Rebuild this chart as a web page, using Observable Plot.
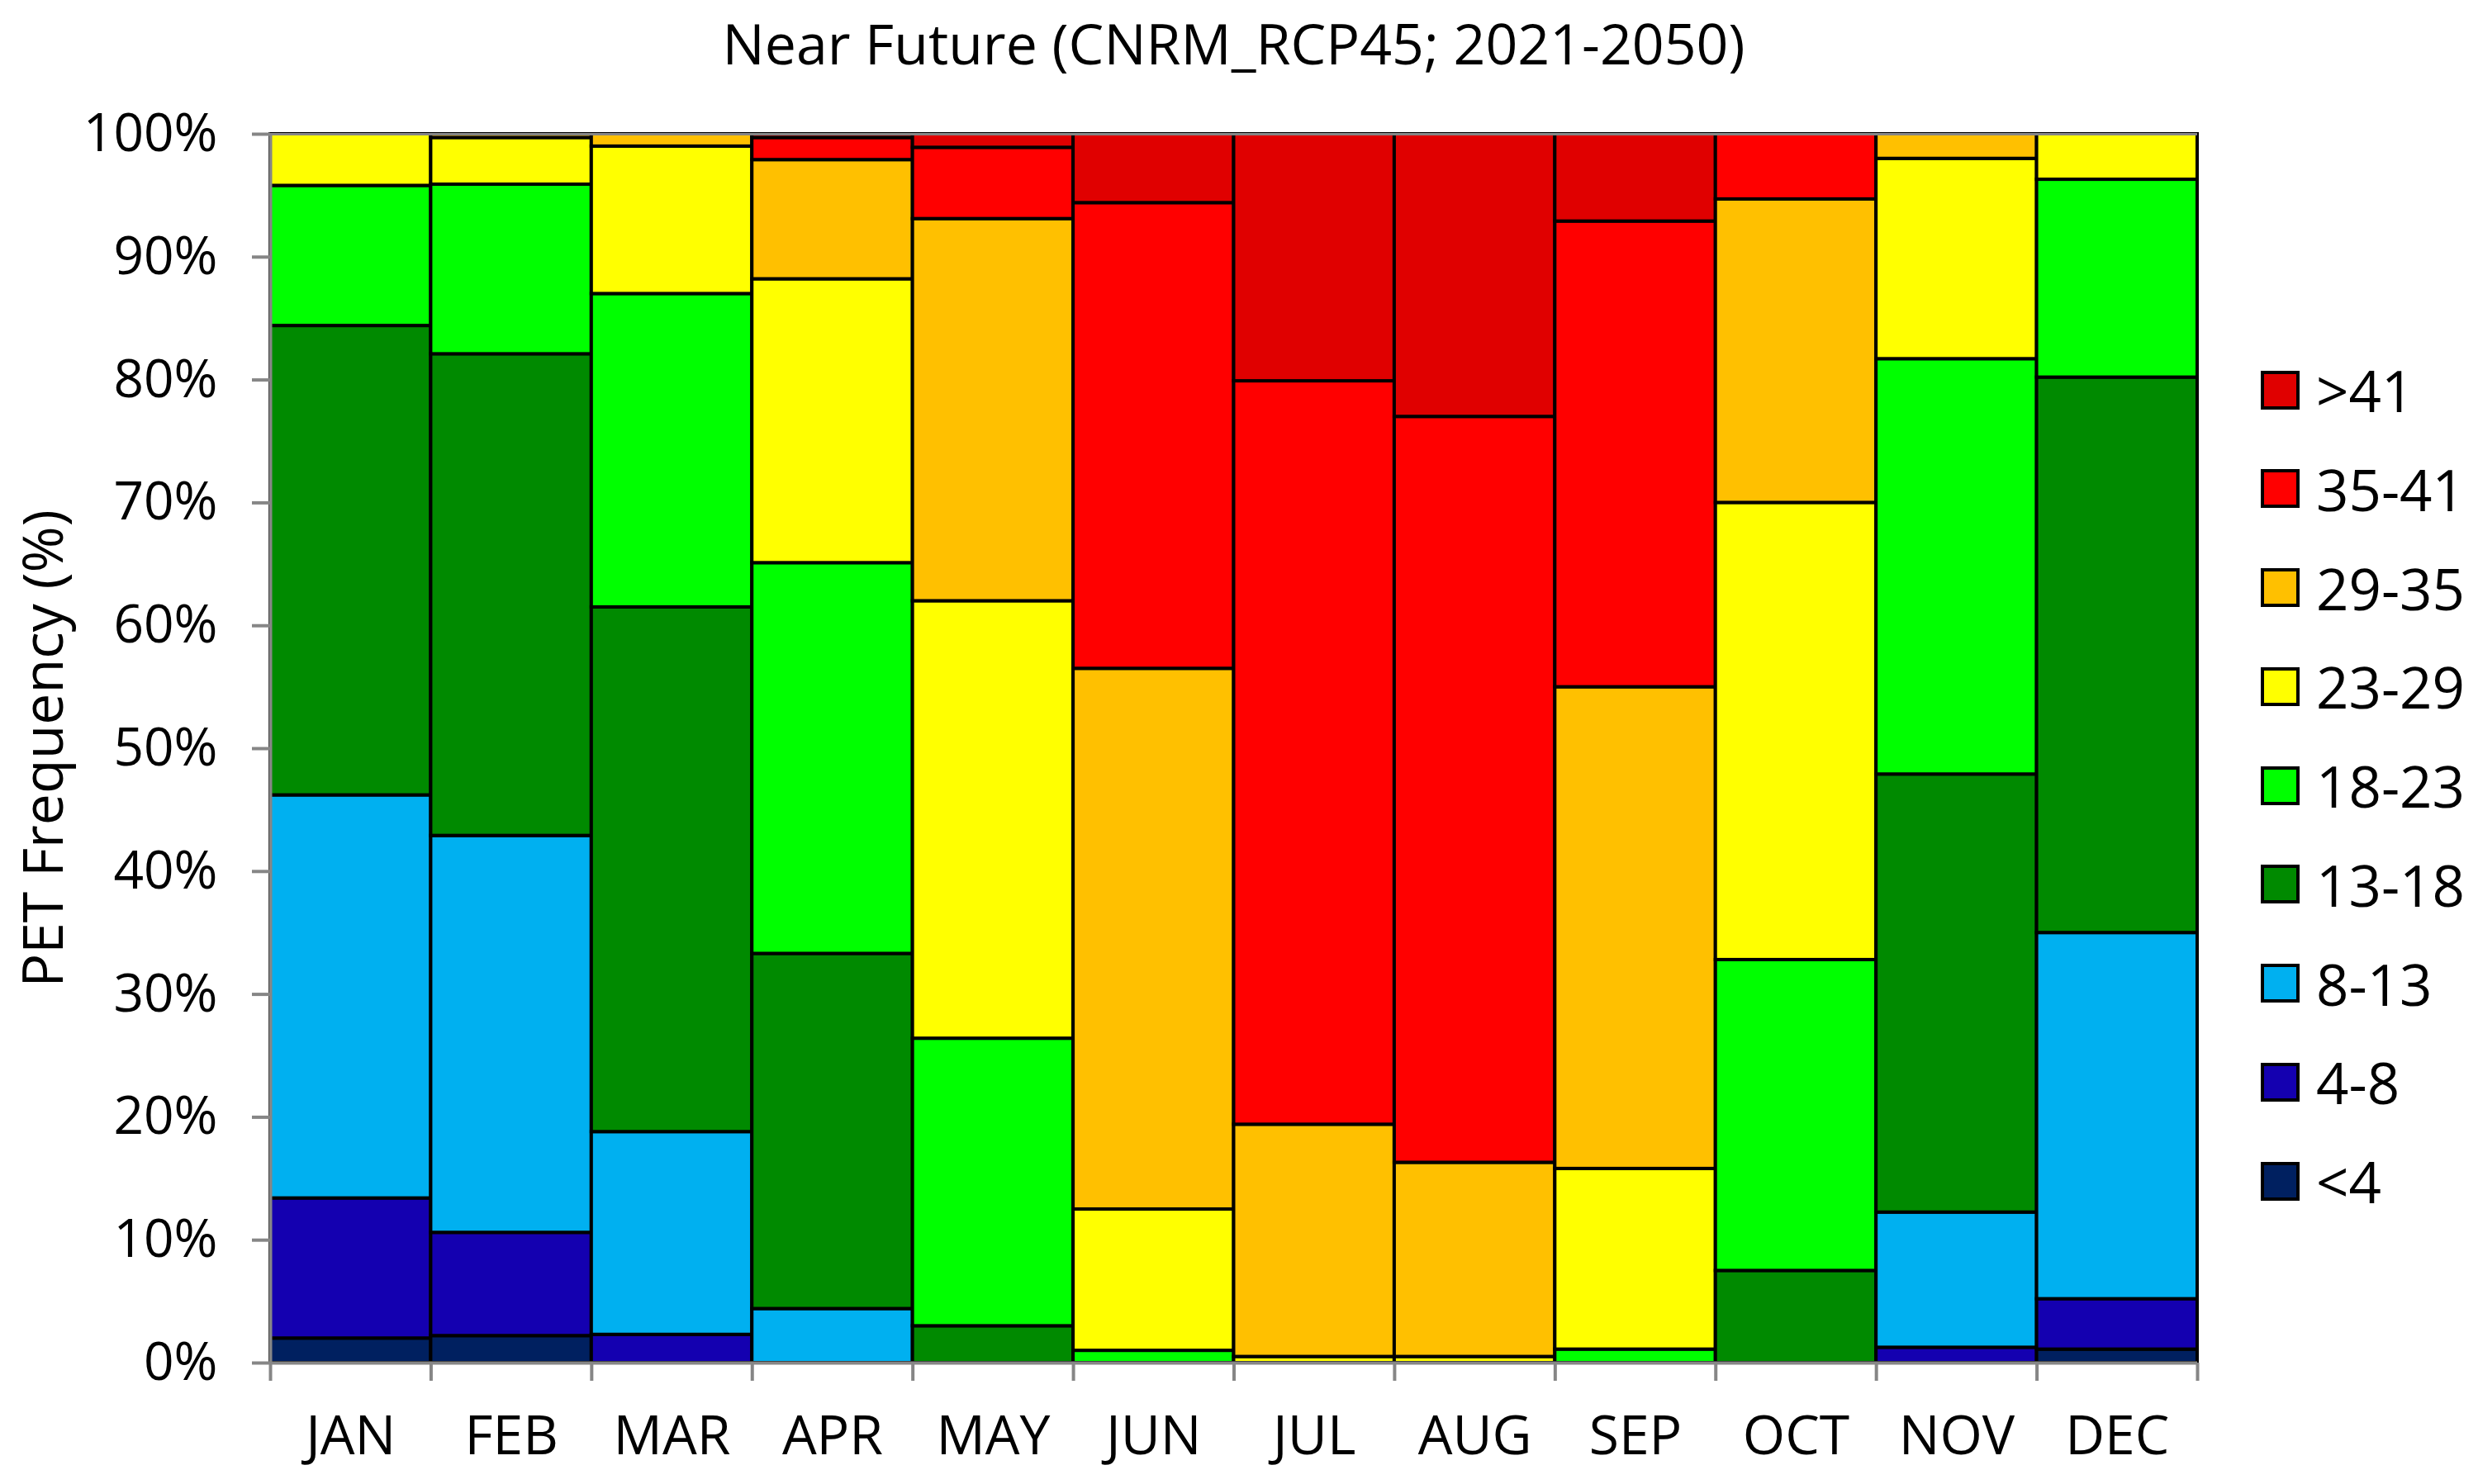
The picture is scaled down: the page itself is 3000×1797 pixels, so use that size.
<!DOCTYPE html>
<html>
<head>
<meta charset="utf-8">
<script src="https://cdn.jsdelivr.net/npm/d3@7"></script>
<script src="https://cdn.jsdelivr.net/npm/@observablehq/plot@0.6"></script>
<style>
  html, body { margin: 0; padding: 0; background: #fff; }
  #wrap { position: relative; width: 3000px; height: 1797px; font-family: 'Open Sans', sans-serif; }
  #title { position: absolute; left: 327px; width: 2333px; top: 0; height: 100px; line-height: 104px; text-align: center; font-size: 68px; color: #000; }
  #chart { position: absolute; left: 0; top: 100px; }
  #legend { position: absolute; left: 2737px; top: 0; }
  .item { position: absolute; left: 0; display: flex; align-items: center; height: 80px; white-space: nowrap; }
  .sw { width: 39px; height: 39px; border: 4px solid #000; margin-right: 20px; }
  .lab { font-size: 69px; color: #000; }
</style>
</head>
<body>
<div id="wrap">
  <div id="title">Near Future (CNRM_RCP45; 2021-2050)</div>
  <div id="chart"></div>
  <div id="legend"></div>
</div>
<script>
const months = ["JAN","FEB","MAR","APR","MAY","JUN","JUL","AUG","SEP","OCT","NOV","DEC"];
const cats = ["<4","4-8","8-13","13-18","18-23","23-29","29-35","35-41",">41"];
const colors = ["#002060","#1400B0","#00B0F0","#008A00","#00FF00","#FFFF00","#FFC000","#FF0000","#E00000"];
const yTicks = [0,10,20,30,40,50,60,70,80,90,100];

const lt4    = [2.0, 2.2, 0,    0,    0,    0,    0,    0,    0,    0,    0,     1.1];
const c4_8   = [11.4,8.4, 2.3,  0,    0,    0,    0,    0,    0,    0,    1.25,  4.1];
const c8_13  = [32.8,32.3,16.5, 4.4,  0,    0,    0,    0,    0,    0,    11.0,  29.8];
const c13_18 = [38.2,39.2,42.7, 28.9, 3.0,  0,    0,    0,    0,    7.5,  35.65, 45.2];
const c18_23 = [11.4,13.8,25.5, 31.8, 23.4, 1.0,  0,    0,    1.1,  25.3, 33.8,  16.1];
const c23_29 = [4.2, 3.8, 12.0, 23.1, 35.6, 11.5, 0.5,  0.5,  14.7, 37.2, 16.3,  3.7];
const c29_35 = [0,   0.3, 1.0,  9.7,  31.1, 44.0, 18.9, 15.8, 39.2, 24.7, 2.0,   0];
const c35_41 = [0,   0,   0,    1.8,  5.8,  37.9, 60.5, 60.7, 37.9, 5.3,  0,     0];
const gt41   = [0,   0,   0,    0.3,  1.1,  5.6,  20.1, 23.0, 7.1,  0,    0,     0];
const series = [lt4, c4_8, c8_13, c13_18, c18_23, c23_29, c29_35, c35_41, gt41];

const rows = [];
months.forEach((m, i) => {
  let acc = 0;
  series.forEach((s, k) => {
    const v = s[i];
    if (v > 0) rows.push({x1: i, x2: i + 1, y1: acc, y2: acc + v, cat: cats[k]});
    acc += v;
  });
});

const gray = "#868686";
const chart = Plot.plot({
  width: 3000, height: 1697,
  marginTop: 62, marginBottom: 147, marginLeft: 327, marginRight: 340,
  x: {domain: [0, 12], axis: null},
  y: {domain: [0, 100], axis: null},
  color: {domain: cats, range: colors},
  style: {fontFamily: "'Open Sans', sans-serif", fontSize: "60px", color: "#000", background: "#fff", overflow: "visible"},
  marks: [
    Plot.rect(rows, {x1: "x1", x2: "x2", y1: "y1", y2: "y2", fill: "cat", stroke: "#000", strokeWidth: 4}),
    Plot.ruleY([100], {stroke: gray, strokeWidth: 3}),
    Plot.axisY({ticks: yTicks, tickFormat: d => d + "%", tickSize: 22, tickPadding: 42, stroke: gray, strokeWidth: 4, fontSize: 64, label: null}),
    Plot.axisX({ticks: d3.range(0, 13), tickFormat: () => "", tickSize: 22, stroke: gray, strokeWidth: 4, label: null}),
    Plot.axisX({ticks: months.map((m, i) => i + 0.5), tickFormat: d => months[Math.floor(d)], tickSize: 0, tickPadding: 64, fontSize: 66, label: null}),
    Plot.ruleX([0], {stroke: gray, strokeWidth: 4}),
    Plot.ruleY([0], {stroke: gray, strokeWidth: 4}),
    Plot.text(["PET Frequency (%)"], {frameAnchor: "left", textAnchor: "middle", dx: -273, rotate: -90, fontSize: 68, fill: "#000"})
  ]
});
document.getElementById("chart").appendChild(chart);

// legend (top to bottom: >41 ... <4)
const legend = document.getElementById("legend");
const order = cats.slice().reverse();
order.forEach((c, k) => {
  const div = document.createElement("div");
  div.className = "item";
  div.style.top = (472 + k * 119.75 - 40) + "px";
  const sw = document.createElement("div");
  sw.className = "sw";
  sw.style.background = colors[cats.indexOf(c)];
  const lab = document.createElement("span");
  lab.className = "lab";
  lab.textContent = c;
  div.appendChild(sw); div.appendChild(lab);
  legend.appendChild(div);
});
</script>
</body>
</html>
